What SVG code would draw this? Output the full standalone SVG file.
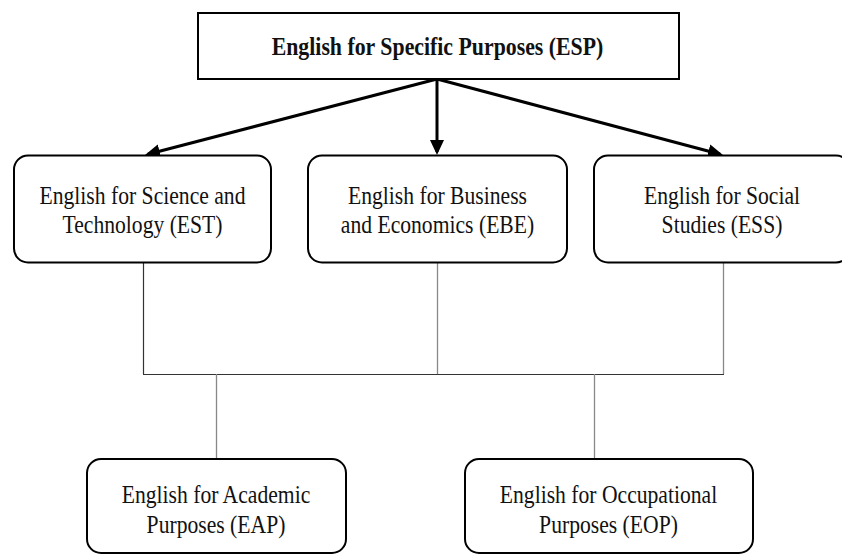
<svg xmlns="http://www.w3.org/2000/svg" width="842" height="555" viewBox="0 0 842 555">
  <style>
    .box { fill: #ffffff; stroke: #000000; stroke-width: 2; }
    .lbl { font-size: 26px; fill: #111111; text-anchor: middle; }
    .title { font-size: 25px; font-weight: bold; fill: #111111; text-anchor: middle; }
    .arrow { stroke: #000000; stroke-width: 3; fill: none; marker-end: url(#head); }
    .ln { stroke: #888888; stroke-width: 1.3; fill: none; }
    .lnd { stroke: #333333; stroke-width: 1.2; fill: none; }
  </style>
  <defs>
    <marker id="head" markerUnits="userSpaceOnUse" markerWidth="16" markerHeight="15" refX="12" refY="7" orient="auto">
      <path d="M0,0 L15,7 L0,14 z" fill="#000000"/>
    </marker>
  </defs>
  <rect width="842" height="555" fill="#ffffff"/>

  <g id="connectors">
    <line class="arrow" x1="437" y1="79" x2="147.9" y2="154.24"/>
    <line class="arrow" x1="437" y1="79" x2="437" y2="152"/>
    <line class="arrow" x1="437" y1="79" x2="720.1" y2="154.23"/>
    <line class="lnd" x1="143.5" y1="263" x2="143.5" y2="374"/>
    <line class="ln" x1="437.5" y1="263" x2="437.5" y2="374"/>
    <line class="ln" x1="723.5" y1="263" x2="723.5" y2="374"/>
    <line class="lnd" x1="143" y1="374.5" x2="724" y2="374.5"/>
    <line class="ln" x1="216.5" y1="374" x2="216.5" y2="459"/>
    <line class="ln" x1="594.5" y1="374" x2="594.5" y2="459"/>
  </g>

  <g id="esp">
    <rect class="box" x="198" y="13" width="481" height="66"/>
    <text class="title" font-family="Liberation Serif, Times New Roman, serif" transform="translate(437.5,55) scale(0.873,1)">English for Specific Purposes (ESP)</text>
  </g>

  <g id="est">
    <rect class="box" x="14" y="155.5" width="257" height="107" rx="14" ry="14"/>
    <text class="lbl" font-family="Liberation Serif, Times New Roman, serif" transform="translate(142.5,0) scale(0.832,1)"><tspan x="0" y="204">English for Science and</tspan><tspan x="0" y="233">Technology (EST)</tspan></text>
  </g>

  <g id="ebe">
    <rect class="box" x="308" y="155.5" width="259" height="107" rx="14" ry="14"/>
    <text class="lbl" font-family="Liberation Serif, Times New Roman, serif" transform="translate(437.5,0) scale(0.832,1)"><tspan x="0" y="204">English for Business</tspan><tspan x="0" y="233">and Economics (EBE)</tspan></text>
  </g>

  <g id="ess">
    <rect class="box" x="594" y="155.5" width="256" height="107" rx="14" ry="14"/>
    <text class="lbl" font-family="Liberation Serif, Times New Roman, serif" transform="translate(722,0) scale(0.832,1)"><tspan x="0" y="204">English for Social</tspan><tspan x="0" y="233">Studies (ESS)</tspan></text>
  </g>

  <g id="eap">
    <rect class="box" x="87" y="459" width="259" height="94" rx="14" ry="14"/>
    <text class="lbl" font-family="Liberation Serif, Times New Roman, serif" transform="translate(216,0) scale(0.832,1)"><tspan x="0" y="503">English for Academic</tspan><tspan x="0" y="533">Purposes (EAP)</tspan></text>
  </g>

  <g id="eop">
    <rect class="box" x="465" y="459" width="288" height="94" rx="14" ry="14"/>
    <text class="lbl" font-family="Liberation Serif, Times New Roman, serif" transform="translate(608.5,0) scale(0.832,1)"><tspan x="0" y="503">English for Occupational</tspan><tspan x="0" y="533">Purposes (EOP)</tspan></text>
  </g>
</svg>
